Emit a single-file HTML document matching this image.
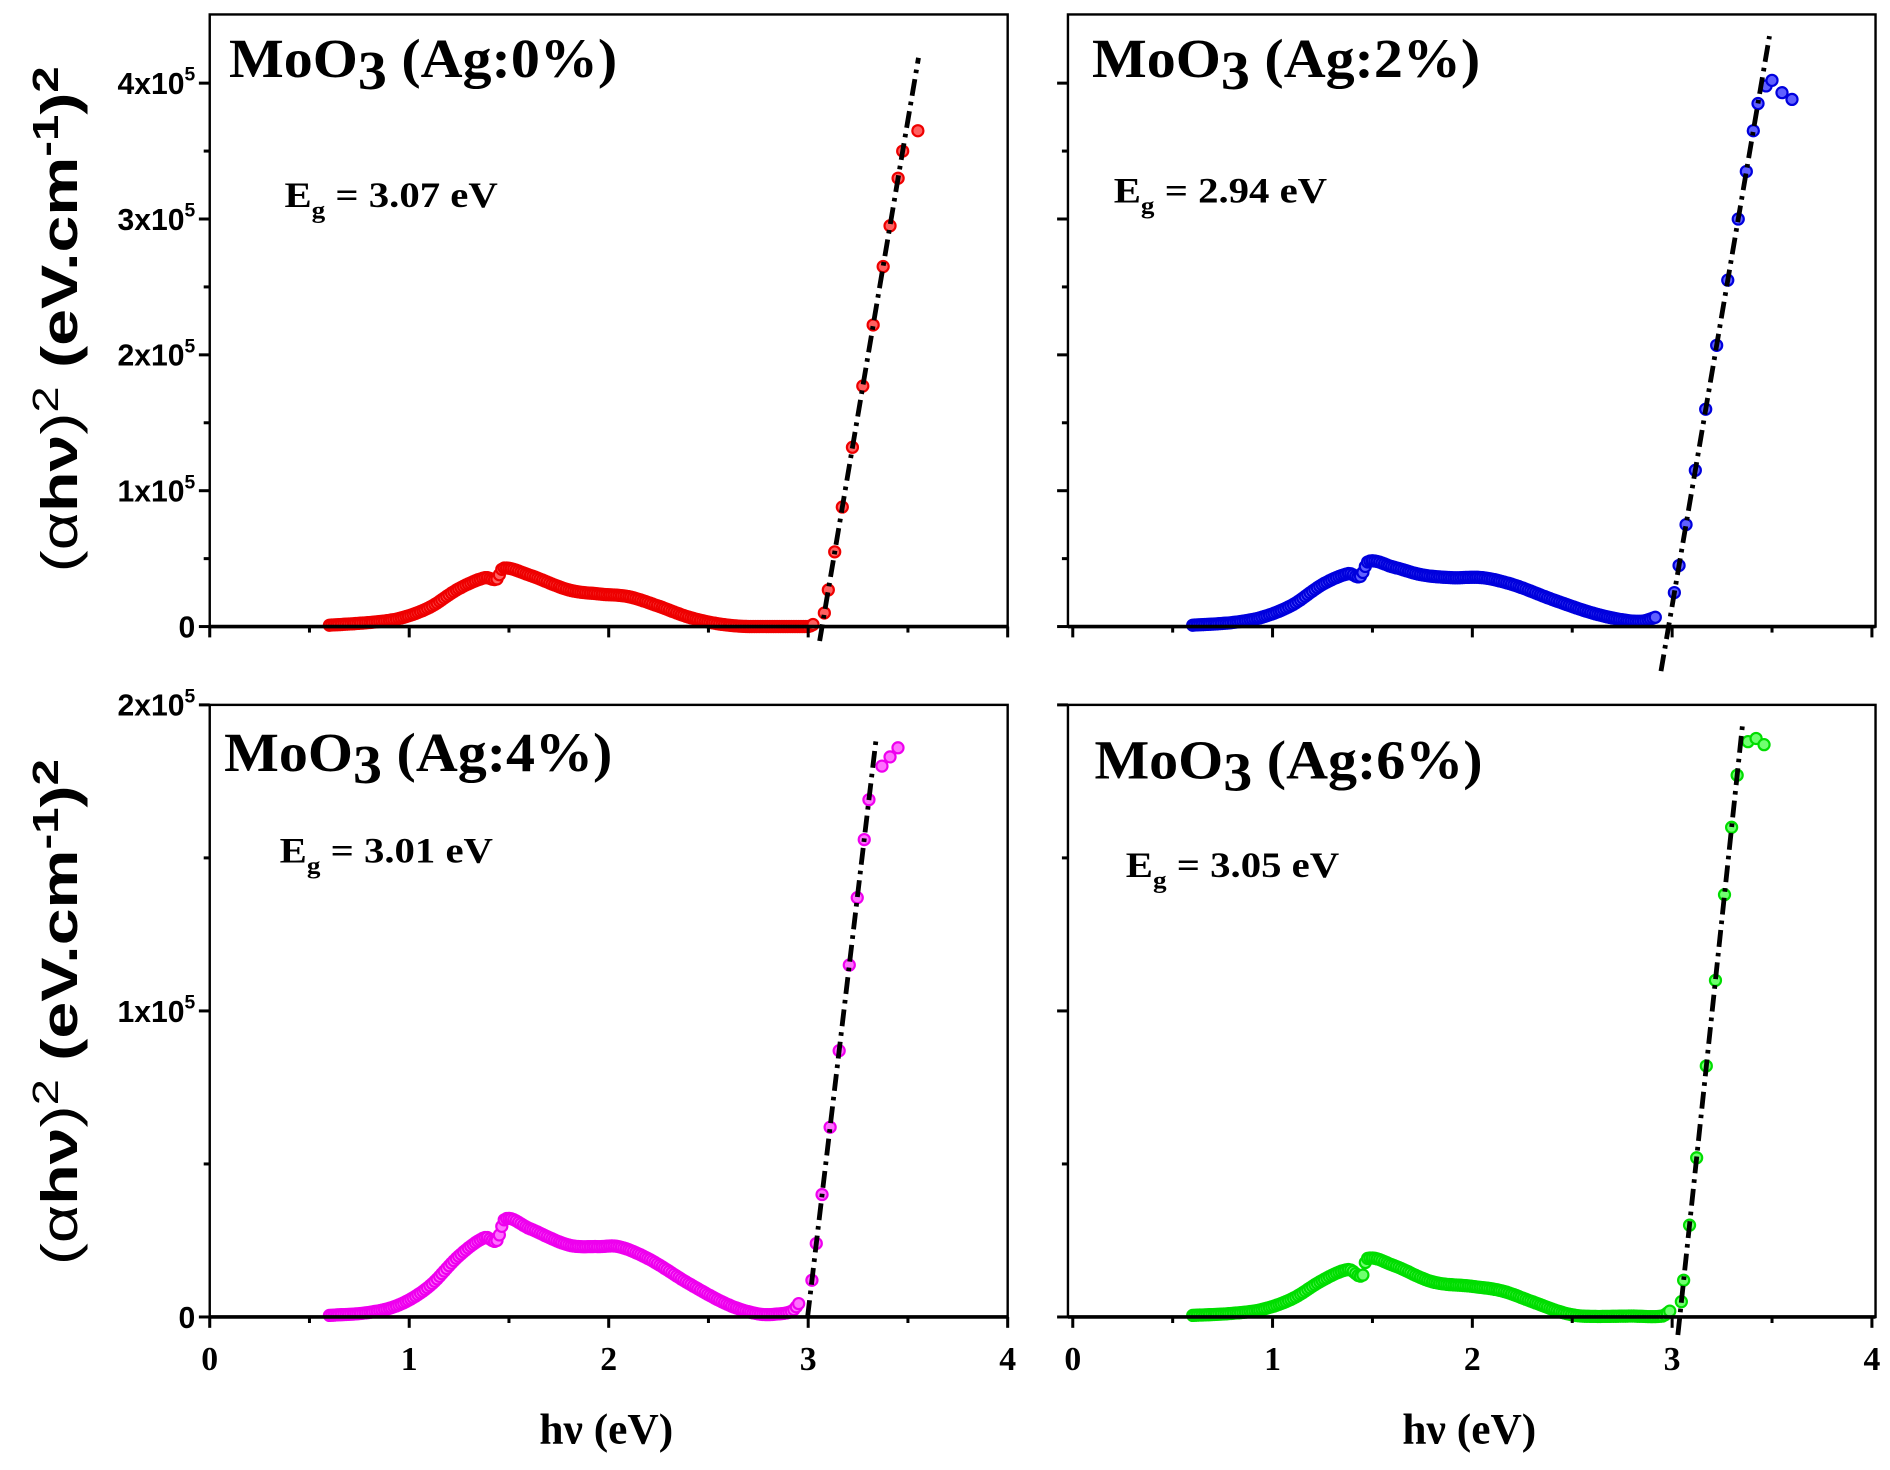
<!DOCTYPE html>
<html><head><meta charset="utf-8"><style>html,body{margin:0;padding:0;background:#fff}svg{display:block}</style></head>
<body>
<svg id="s" width="1890" height="1470" viewBox="0 0 1568 1220" preserveAspectRatio="none" xmlns="http://www.w3.org/2000/svg">
</svg>
<script>
const S=document.getElementById('s');let h='';
function add(x){h+=x;}
const panels=[
 {L:174,R:836,T:12,B:520,x0:174,ux:165.5,uy:112.75,col:'#e00',fill:'#ff6060',
  cp:[[0.6,0.01],[0.8,0.03],[0.95,0.06],[1.1,0.14],[1.25,0.28],[1.38,0.36],[1.44,0.35],[1.47,0.43],[1.6,0.38],[1.8,0.27],[1.95,0.24],[2.1,0.22],[2.25,0.15],[2.4,0.07],[2.55,0.02],[2.7,0.0],[2.85,0.0],[3.0,0.0],[3.03,0.02]],
  line:[680,532,762,48], vals:[0.1,0.27,0.55,0.88,1.32,1.77,2.22,2.65,2.95,3.3,3.5], after:[[3.55,3.65]], pct:'0%',tx:190,ty:64,eg:'3.07',ex:236,ey:172},
 {L:886,R:1556,T:12,B:520,x0:890,ux:165.75,uy:112.75,col:'#00d',fill:'#6060ff',
  cp:[[0.6,0.01],[0.8,0.03],[0.95,0.07],[1.1,0.16],[1.25,0.31],[1.38,0.39],[1.44,0.37],[1.48,0.48],[1.6,0.44],[1.75,0.38],[1.9,0.36],[2.05,0.36],[2.2,0.31],[2.4,0.2],[2.6,0.1],[2.75,0.05],[2.85,0.04],[2.92,0.07]],
  line:[1378,557,1468,30], vals:[0.25,0.45,0.75,1.15,1.6,2.07,2.55,3.0,3.35,3.65,3.85], after:[[3.47,3.98],[3.5,4.02],[3.55,3.93],[3.6,3.88]], pct:'2%',tx:906,ty:64,eg:'2.94',ex:924,ey:168},
 {L:174,R:836,T:585,B:1093,x0:174,ux:165.5,uy:254,col:'#e0e',fill:'#ff70ff',
  cp:[[0.6,0.005],[0.8,0.015],[0.95,0.04],[1.1,0.1],[1.25,0.2],[1.38,0.26],[1.44,0.25],[1.48,0.32],[1.6,0.29],[1.8,0.235],[1.95,0.23],[2.05,0.23],[2.2,0.19],[2.4,0.11],[2.6,0.04],[2.75,0.01],[2.85,0.01],[2.92,0.02],[2.96,0.05]],
  line:[670,1093,727,612], vals:[0.12,0.24,0.4,0.62,0.87,1.15,1.37,1.56,1.69], after:[[3.37,1.8],[3.41,1.83],[3.45,1.86]], pct:'4%',tx:186,ty:640,eg:'3.01',ex:232,ey:716},
 {L:886,R:1556,T:585,B:1093,x0:890,ux:165.75,uy:254,col:'#0d0',fill:'#70ff70',
  cp:[[0.6,0.005],[0.8,0.012],[0.95,0.025],[1.1,0.06],[1.25,0.12],[1.38,0.155],[1.45,0.135],[1.47,0.19],[1.6,0.17],[1.8,0.115],[2.0,0.1],[2.15,0.085],[2.3,0.05],[2.45,0.015],[2.55,0.003],[2.8,0.003],[2.95,0.003],[2.99,0.02]],
  line:[1392,1108,1446,598], vals:[0.05,0.12,0.3,0.52,0.82,1.1,1.38,1.6,1.77], after:[[3.38,1.88],[3.42,1.89],[3.46,1.87]], pct:'6%',tx:908,ty:646,eg:'3.05',ex:934,ey:728}
];
function cr(cp,E){for(let i=0;i<cp.length-1;i++){const a=cp[i],b=cp[i+1];if(E>=a[0]&&E<=b[0]){const p0=cp[Math.max(0,i-1)],p3=cp[Math.min(cp.length-1,i+2)];const t=(E-a[0])/(b[0]-a[0]);const m1=(b[1]-p0[1])/(b[0]-p0[0])*(b[0]-a[0]),m2=(p3[1]-a[1])/(p3[0]-a[0])*(b[0]-a[0]);const t2=t*t,t3=t2*t;return (2*t3-3*t2+1)*a[1]+(t3-2*t2+t)*m1+(-2*t3+3*t2)*b[1]+(t3-t2)*m2;}}return 0;}
panels.forEach((p,k)=>{
 const X=E=>p.x0+E*p.ux, Y=v=>p.B-v*p.uy;
 let pts=[];
 for(let E=p.cp[0][0];E<=p.cp[p.cp.length-1][0]+1e-6;E+=0.012){let v=cr(p.cp,E);if(v<0)v=0;pts.push([X(E),Y(v)]);}
 const [x1,y1,x2,y2]=p.line;
 p.vals.forEach(v=>{const py=Y(v);const t=(py-y1)/(y2-y1);pts.push([x1+(x2-x1)*t,py]);});
 p.after.forEach(a=>pts.push([X(a[0]),Y(a[1])]));
 pts.forEach(q=>add(`<circle cx="${q[0].toFixed(1)}" cy="${q[1].toFixed(1)}" r="4.6" fill="${p.fill}" stroke="${p.col}" stroke-width="1.8"/>`));
 add(`<line x1="${x1}" y1="${y1}" x2="${x2}" y2="${y2}" stroke="#000" stroke-width="4" stroke-dasharray="14 5 3 5"/>`);
 add(`<rect x="${p.L}" y="${p.T}" width="${p.R-p.L}" height="${p.B-p.T}" fill="none" stroke="#000" stroke-width="2"/>`);
 add(`<line x1="${p.L}" y1="${p.B}" x2="${p.R}" y2="${p.B}" stroke="#000" stroke-width="3"/>`);
 for(let i=0;i<=8;i++){const x=p.x0+i*p.ux/2;add(`<line x1="${x}" y1="${p.B}" x2="${x}" y2="${p.B+(i%2?5:9)}" stroke="#000" stroke-width="2.5"/>`);}
 if(p.T>500){for(let i=0;i<=4;i++){add(`<text x="${p.x0+i*p.ux}" y="${p.B+44}" font-family="Liberation Serif,serif" font-weight="bold" font-size="28" text-anchor="middle">${i}</text>`);}
  add(`<text x="${(p.L+p.R)/2-2}" y="1198" font-family="Liberation Serif,serif" font-weight="bold" font-size="36" text-anchor="middle">hν (eV)</text>`);}
 const maxv=p.T<100?4.4:2.0;
 for(let v=0;v<=maxv+1e-6;v+=0.5){const y=Y(v);if(y<p.T-1)break;const maj=Math.abs(v-Math.round(v))<1e-6;add(`<line x1="${p.L-(maj?9:5)}" y1="${y}" x2="${p.L}" y2="${y}" stroke="#000" stroke-width="2.5"/>`);}
 if(p.L<300){const labs=p.T<100?[0,1,2,3,4]:[0,1,2];labs.forEach(v=>{const y=Y(v);add(`<text x="${p.L-12}" y="${y+9}" font-family="Liberation Sans,sans-serif" font-weight="bold" font-size="25" text-anchor="end">${v==0?'0':v+'x10<tspan dy="-11" font-size="16">5</tspan>'}</text>`);});}
 add(`<text x="${p.tx}" y="${p.ty}" font-family="Liberation Serif,serif" font-weight="bold" font-size="46" textLength="322" lengthAdjust="spacingAndGlyphs">MoO<tspan dy="10">3</tspan><tspan dy="-10"> (Ag:${p.pct})</tspan></text>`);
 add(`<text x="${p.ex}" y="${p.ey}" font-family="Liberation Serif,serif" font-weight="bold" font-size="30" textLength="177" lengthAdjust="spacingAndGlyphs">E<tspan dy="9" font-size="20">g</tspan><tspan dy="-9"> = ${p.eg} eV</tspan></text>`);
});
[265,840].forEach(cy=>{add(`<text transform="translate(64,${cy}) rotate(-90)" text-anchor="middle" font-family="Liberation Sans,sans-serif" font-size="42" textLength="420" lengthAdjust="spacingAndGlyphs"><tspan>(α</tspan><tspan font-weight="bold">hν</tspan><tspan>)</tspan><tspan dy="-16" font-size="30">2</tspan><tspan dy="16" font-weight="bold"> (eV.cm</tspan><tspan dy="-16" font-size="30" font-weight="bold">-1</tspan><tspan dy="16" font-weight="bold">)</tspan><tspan dy="-16" font-size="30" font-weight="bold">2</tspan></text>`);});
S.innerHTML=h;
</script>
</body></html>
